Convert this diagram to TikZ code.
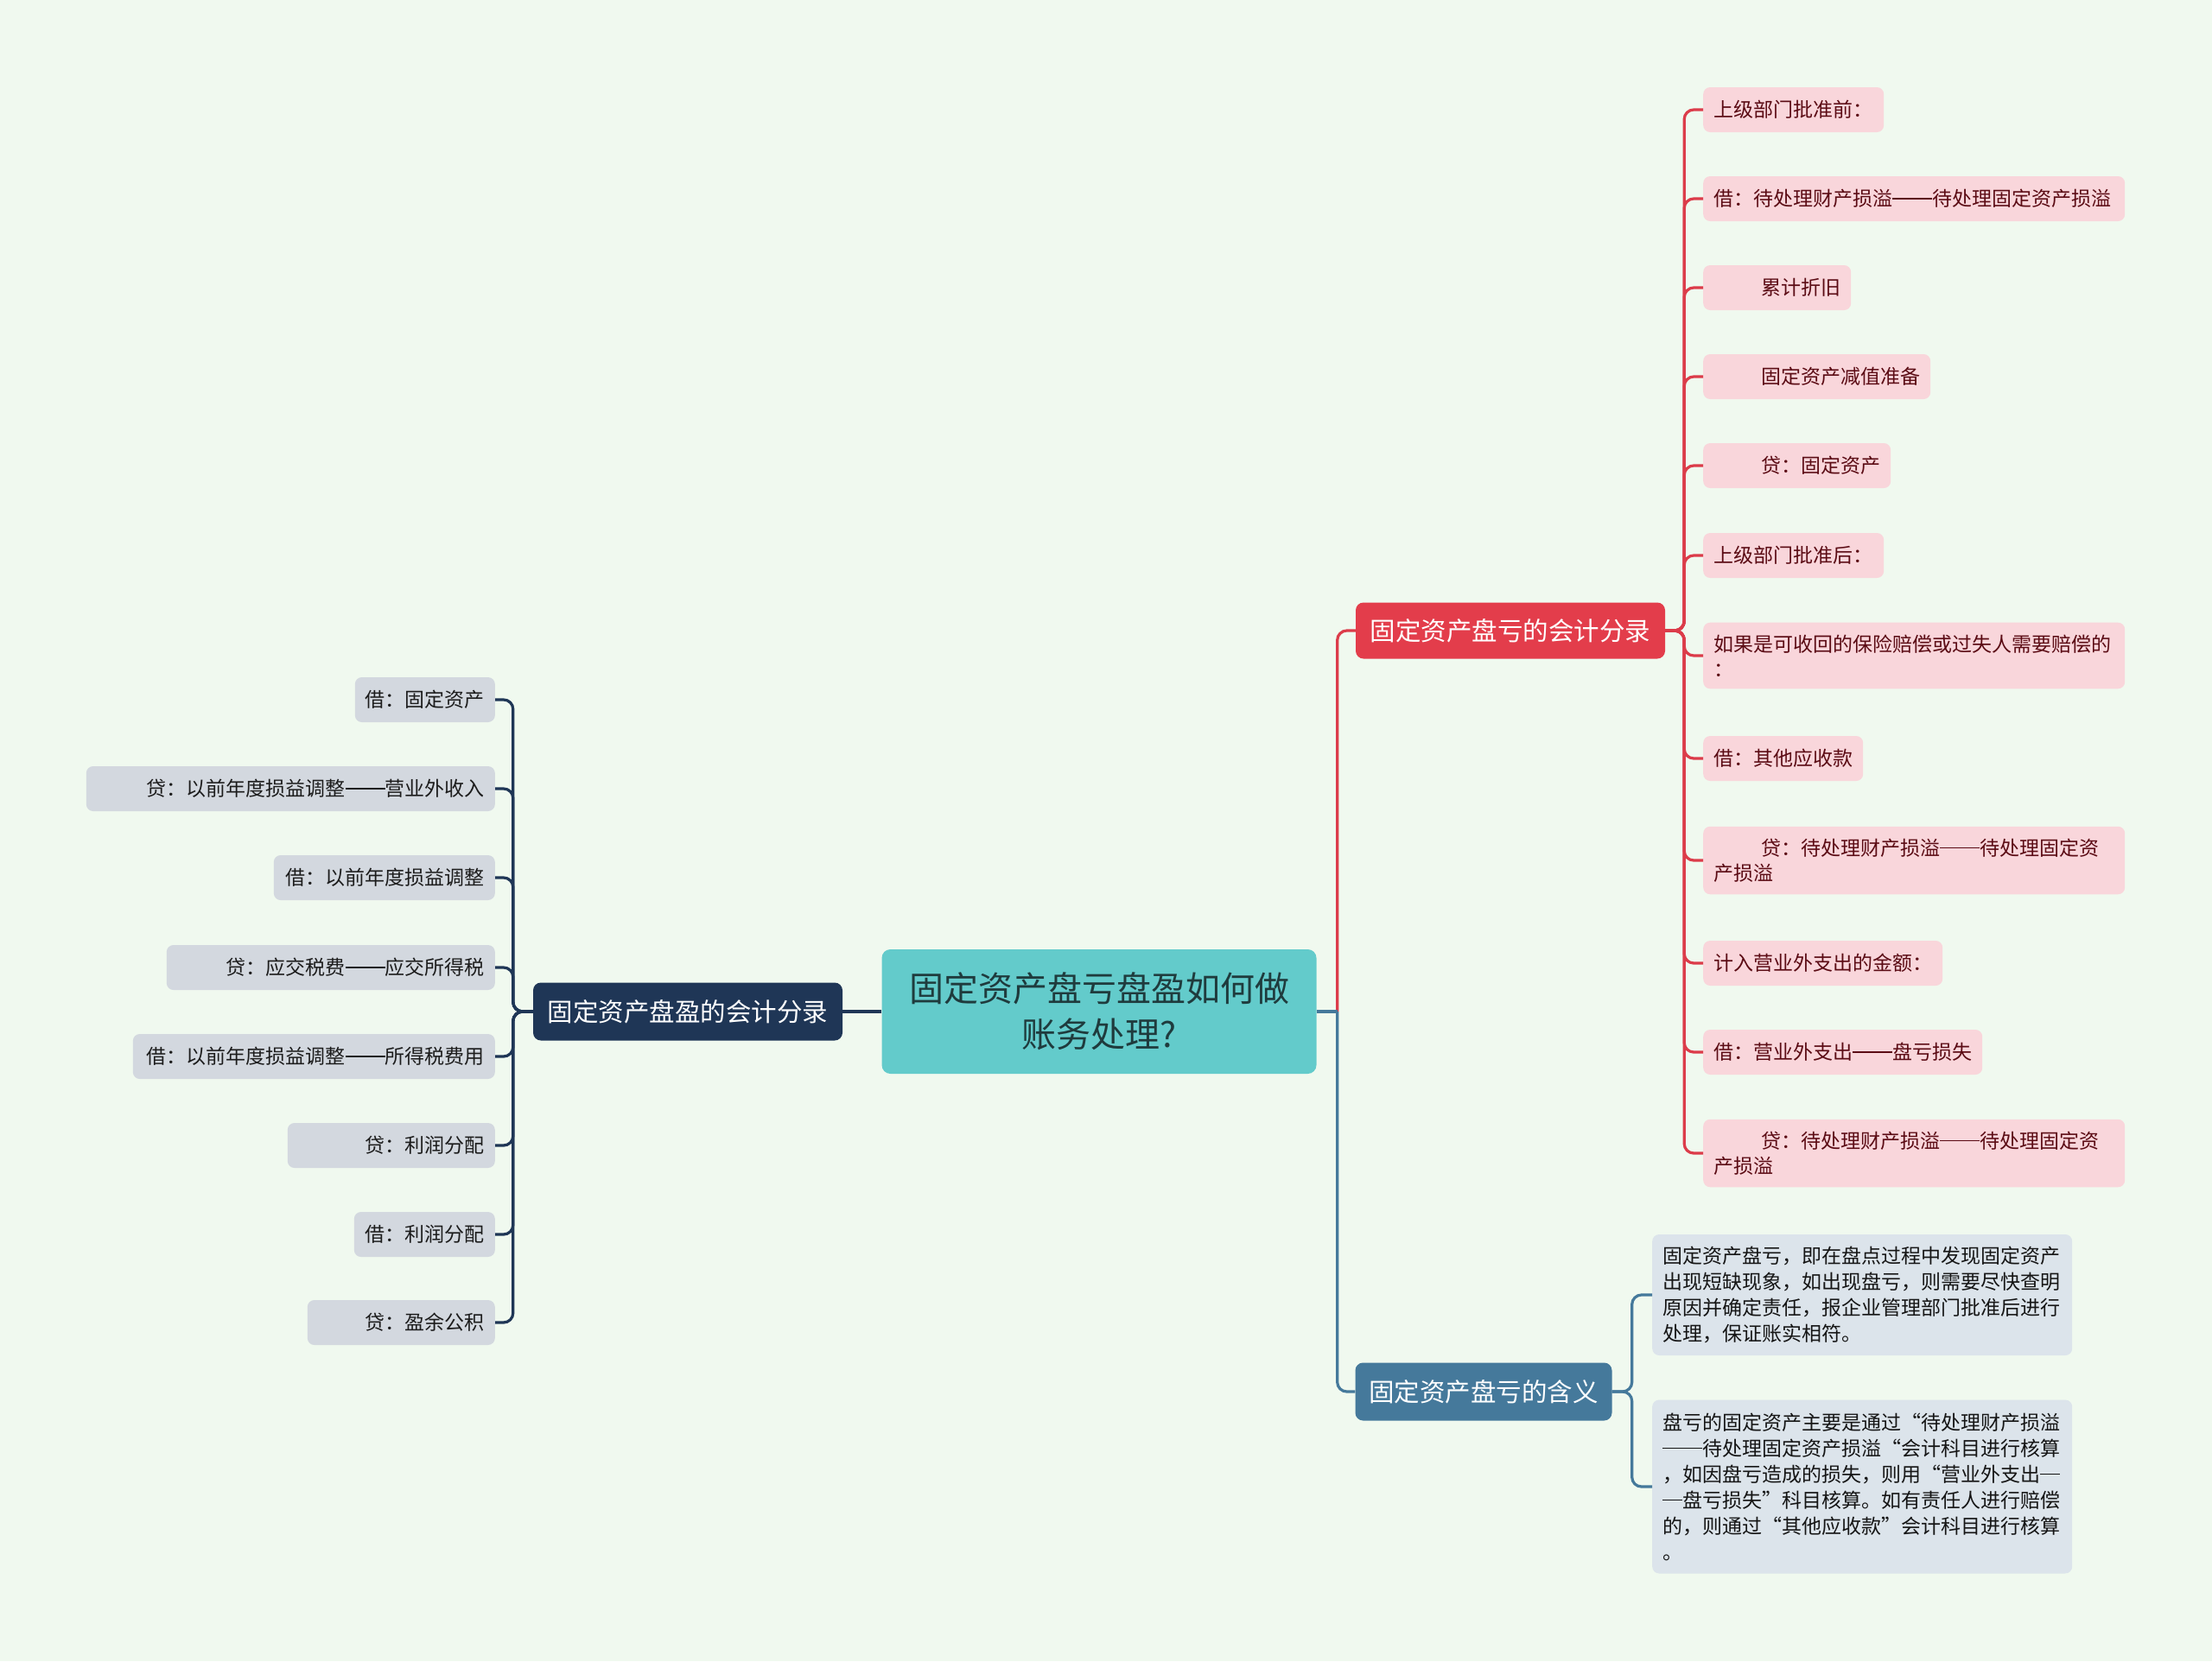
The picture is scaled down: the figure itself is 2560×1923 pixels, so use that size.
\documentclass[tikz,border=0pt]{standalone}
\usepackage{fontspec}
\newfontfamily\cjk{Noto Sans CJK SC}
\usetikzlibrary{calc}
\setlength{\parindent}{0pt}
\newcommand\mydd{\rule[0.34em]{2em}{0.075em}}
\newcommand\mysd{\rule[0.34em]{1em}{0.075em}}
\definecolor{bgc}{HTML}{F0F9EF}
\definecolor{centerfill}{HTML}{63CBCB}
\definecolor{centertext}{HTML}{1F3B3D}
\definecolor{redmain}{HTML}{E33D4B}
\definecolor{redline}{HTML}{DC3C4A}
\definecolor{pinkfill}{HTML}{F9D6DB}
\definecolor{redtext}{HTML}{5B0B14}
\definecolor{navy}{HTML}{1F3656}
\definecolor{grayfill}{HTML}{D3D8DF}
\definecolor{graytext}{HTML}{1C1C1C}
\definecolor{bluemain}{HTML}{45799B}
\definecolor{bluefill}{HTML}{DCE4EB}
\definecolor{bluetext}{HTML}{151515}
\tikzset{
  mainbox/.style={rounded corners=9pt, text=white, align=center, inner sep=0pt,
    font=\cjk\fontsize{29.5}{36}\selectfont},
  leafright/.style={anchor=west, fill=pinkfill, text=redtext, rounded corners=8pt,
    align=left, inner xsep=12pt, inner ysep=14pt, minimum height=52pt,
    font=\cjk\fontsize{23}{29}\selectfont},
  leafleft/.style={anchor=east, fill=grayfill, text=graytext, rounded corners=8pt,
    align=right, inner xsep=12pt, inner ysep=14pt, minimum height=52pt,
    font=\cjk\fontsize{23}{29}\selectfont},
  leafblue/.style={anchor=west, fill=bluefill, text=bluetext, rounded corners=8pt,
    align=left, inner xsep=12pt, text width=462pt,
    font=\cjk\fontsize{23}{30}\selectfont},
  conred/.style={draw=redline, line width=3.2pt, rounded corners=11pt},
  connavy/.style={draw=navy, line width=3.2pt, rounded corners=11pt},
  conblue/.style={draw=bluemain, line width=3.2pt, rounded corners=11pt},
}
\begin{document}
\begin{tikzpicture}[x=1pt,y=-1pt]
\useasboundingbox (0,0) rectangle (2560,1923);
\fill[bgc] (0,0) rectangle (2560,1923);

% central node
\node[fill=centerfill, text=centertext, rounded corners=10pt, align=center,
  minimum width=503pt, minimum height=144pt, inner sep=0pt,
  font=\cjk\fontsize{40}{53}\selectfont] (c) at (1272,1171)
  {固定资产盘亏盘盈如何做\\账务处理?};

% main branches
\node[mainbox, fill=redmain, minimum width=358pt, minimum height=65pt] (r) at (1748,730) {固定资产盘亏的会计分录};
\node[mainbox, fill=navy, minimum width=358pt, minimum height=67pt] (n) at (796,1171) {固定资产盘盈的会计分录};
\node[mainbox, fill=bluemain, minimum width=297pt, minimum height=67pt] (b) at (1717,1611) {固定资产盘亏的含义};

% right red leaves
\node[leafright, text width=185pt] (rl1) at (1971,127) {上级部门批准前：};
\node[leafright, text width=464pt] (rl2) at (1971,230) {借：待处理财产损溢\mydd 待处理固定资产损溢};
\node[leafright, text width=147pt] (rl3) at (1971,333) {\hspace*{55pt}累计折旧};
\node[leafright, text width=239pt] (rl4) at (1971,436) {\hspace*{55pt}固定资产减值准备};
\node[leafright, text width=193pt] (rl5) at (1971,539) {\hspace*{55pt}贷：固定资产};
\node[leafright, text width=185pt] (rl6) at (1971,643) {上级部门批准后：};
\node[leafright, text width=464pt] (rl7) at (1971,759) {如果是可收回的保险赔偿或过失人需要赔偿的\\：};
\node[leafright, text width=161pt] (rl8) at (1971,878) {借：其他应收款};
\node[leafright, text width=464pt] (rl9) at (1971,996) {\hspace*{55pt}贷：待处理财产损溢\mydd 待处理固定资\\产损溢};
\node[leafright, text width=253pt] (rl10) at (1971,1115) {计入营业外支出的金额：};
\node[leafright, text width=299pt] (rl11) at (1971,1218) {借：营业外支出\mydd 盘亏损失};
\node[leafright, text width=464pt] (rl12) at (1971,1335) {\hspace*{55pt}贷：待处理财产损溢\mydd 待处理固定资\\产损溢};

% left gray leaves
\node[leafleft, text width=138pt] (ll1) at (573,810) {借：固定资产};
\node[leafleft, text width=449pt] (ll2) at (573,913) {贷：以前年度损益调整\mydd 营业外收入};
\node[leafleft, text width=232pt] (ll3) at (573,1016) {借：以前年度损益调整};
\node[leafleft, text width=356pt] (ll4) at (573,1120) {贷：应交税费\mydd 应交所得税};
\node[leafleft, text width=395pt] (ll5) at (573,1223) {借：以前年度损益调整\mydd 所得税费用};
\node[leafleft, text width=216pt] (ll6) at (573,1326) {贷：利润分配};
\node[leafleft, text width=139pt] (ll7) at (573,1429) {借：利润分配};
\node[leafleft, text width=193pt] (ll8) at (573,1531) {贷：盈余公积};

% blue leaves
\node[leafblue, inner ysep=14pt] (bl1) at (1912,1499) {固定资产盘亏，即在盘点过程中发现固定资产\\出现短缺现象，如出现盘亏，则需要尽快查明\\原因并确定责任，报企业管理部门批准后进行\\处理，保证账实相符。};
\node[leafblue, inner ysep=15pt] (bl2) at (1912,1721) {盘亏的固定资产主要是通过“待处理财产损溢\\\mydd 待处理固定资产损溢“会计科目进行核算\\，如因盘亏造成的损失，则用“营业外支出\mysd\\\mysd 盘亏损失”科目核算。如有责任人进行赔偿\\的，则通过“其他应收款”会计科目进行核算\\。};

% connectors from center
\draw[conred] ($(c.east)+(24,0)$) |- (r.west);
\draw[conblue, rounded corners=0pt] (c.east) -- ($(c.east)+(24,0)$);
\draw[conblue] ($(c.east)+(24,0)$) |- (b.west);
\draw[connavy] (c.west) -- (n.east);

% red leaves connectors
\foreach \i in {1,...,12}{
  \draw[conred] (r.east) -- ++(22,0) |- (rl\i.west);
}
% navy leaves connectors
\foreach \i in {1,...,8}{
  \draw[connavy] (n.west) -- ++(-23,0) |- (ll\i.east);
}
% blue leaves connectors
\foreach \i in {1,2}{
  \draw[conblue] (b.east) -- ++(23,0) |- (bl\i.west);
}
\end{tikzpicture}
\end{document}
